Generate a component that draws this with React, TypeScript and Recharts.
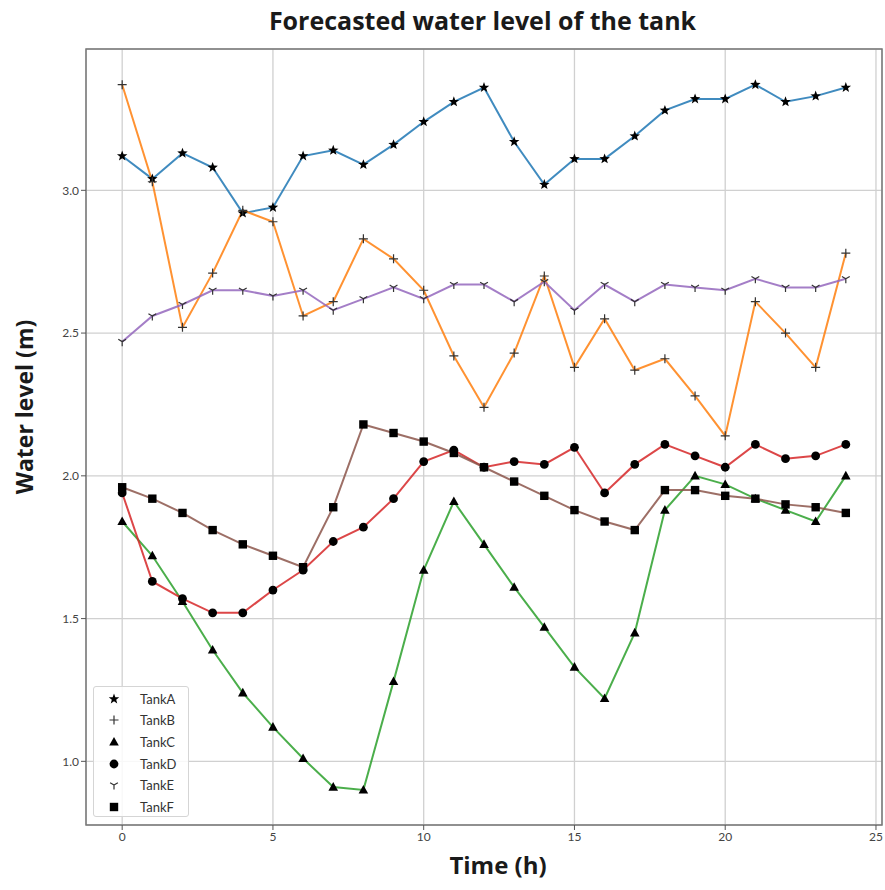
import { LineChart, Line, XAxis, YAxis, CartesianGrid, ReferenceArea } from 'recharts';

const hours = [0, 1, 2, 3, 4, 5, 6, 7, 8, 9, 10, 11, 12, 13, 14, 15, 16, 17, 18, 19, 20, 21, 22, 23, 24];

const tankA = [3.12, 3.04, 3.13, 3.08, 2.92, 2.94, 3.12, 3.14, 3.09, 3.16, 3.24, 3.31, 3.36, 3.17, 3.02, 3.11, 3.11, 3.19, 3.28, 3.32, 3.32, 3.37, 3.31, 3.33, 3.36];
const tankB = [3.37, 3.03, 2.52, 2.71, 2.93, 2.89, 2.56, 2.61, 2.83, 2.76, 2.65, 2.42, 2.24, 2.43, 2.70, 2.38, 2.55, 2.37, 2.41, 2.28, 2.14, 2.61, 2.50, 2.38, 2.78];
const tankC = [1.84, 1.72, 1.56, 1.39, 1.24, 1.12, 1.01, 0.91, 0.90, 1.28, 1.67, 1.91, 1.76, 1.61, 1.47, 1.33, 1.22, 1.45, 1.88, 2.00, 1.97, 1.92, 1.88, 1.84, 2.00];
const tankD = [1.94, 1.63, 1.57, 1.52, 1.52, 1.60, 1.67, 1.77, 1.82, 1.92, 2.05, 2.09, 2.03, 2.05, 2.04, 2.10, 1.94, 2.04, 2.11, 2.07, 2.03, 2.11, 2.06, 2.07, 2.11];
const tankE = [2.47, 2.56, 2.60, 2.65, 2.65, 2.63, 2.65, 2.58, 2.62, 2.66, 2.62, 2.67, 2.67, 2.61, 2.68, 2.58, 2.67, 2.61, 2.67, 2.66, 2.65, 2.69, 2.66, 2.66, 2.69];
const tankF = [1.96, 1.92, 1.87, 1.81, 1.76, 1.72, 1.68, 1.89, 2.18, 2.15, 2.12, 2.08, 2.03, 1.98, 1.93, 1.88, 1.84, 1.81, 1.95, 1.95, 1.93, 1.92, 1.90, 1.89, 1.87];

const xTicks = [0, 5, 10, 15, 20, 25];
const yTicks = [1.0, 1.5, 2.0, 2.5, 3.0];

const X_DOMAIN: [number, number] = [-1.2, 25.2];
const Y_DOMAIN: [number, number] = [0.777, 3.495];

const series = [
  { key: 'TankA', values: tankA, color: '#1f77b4', shape: 'star' },
  { key: 'TankB', values: tankB, color: '#ff7f0e', shape: 'plus' },
  { key: 'TankC', values: tankC, color: '#2ca02c', shape: 'triangle' },
  { key: 'TankD', values: tankD, color: '#d62728', shape: 'circle' },
  { key: 'TankE', values: tankE, color: '#9467bd', shape: 'tri_down' },
  { key: 'TankF', values: tankF, color: '#8c564b', shape: 'square' },
];

const rows = hours.map((t, i) => {
  const row: Record<string, number> = { t };
  series.forEach((s) => {
    row[s.key] = s.values[i];
  });
  return row;
});

const TICK_FONT = 'Lato, "Open Sans", sans-serif';
const LABEL_FONT = '"Open Sans", Lato, sans-serif';

function starPoints(cx: number, cy: number, r: number) {
  const pts: string[] = [];
  for (let k = 0; k < 10; k++) {
    const rr = k % 2 === 0 ? r : r * 0.42;
    const a = -Math.PI / 2 + (k * Math.PI) / 5;
    pts.push(`${cx + rr * Math.cos(a)},${cy + rr * Math.sin(a)}`);
  }
  return pts.join(' ');
}

const Marker = ({ shape, cx, cy }: { shape: string; cx: number; cy: number }) => {
  if (cx == null || cy == null) return null;
  switch (shape) {
    case 'star':
      return <polygon points={starPoints(cx, cy, 5.5)} fill="#000" />;
    case 'plus':
      return (
        <path
          d={`M${cx - 4.5},${cy} H${cx + 4.5} M${cx},${cy - 4.5} V${cy + 4.5}`}
          stroke="#333"
          strokeWidth={1.2}
        />
      );
    case 'triangle':
      return <polygon points={`${cx},${cy - 5} ${cx - 4.8},${cy + 3.6} ${cx + 4.8},${cy + 3.6}`} fill="#000" />;
    case 'circle':
      return <circle cx={cx} cy={cy} r={4.4} fill="#000" />;
    case 'tri_down':
      return (
        <path
          d={`M${cx},${cy} V${cy + 4.5} M${cx},${cy} L${cx - 3.9},${cy - 2.3} M${cx},${cy} L${cx + 3.9},${cy - 2.3}`}
          stroke="#333"
          strokeWidth={1.2}
        />
      );
    case 'square':
      return <rect x={cx - 4.2} y={cy - 4.2} width={8.4} height={8.4} fill="#000" />;
    default:
      return null;
  }
};

const LegendBox = () => (
  <div
    style={{
      position: 'absolute',
      left: 93,
      top: 686,
      width: 96,
      height: 131,
      border: '1px solid #d5d5d5',
      borderRadius: 3,
      background: 'rgba(255,255,255,0.85)',
      boxSizing: 'border-box',
      paddingTop: 1,
    }}
  >
    {series.map((s) => (
      <div key={s.key} style={{ display: 'flex', alignItems: 'center', height: 21.6 }}>
        <svg width={40} height={16}>
          <Marker shape={s.shape} cx={20} cy={8} />
        </svg>
        <span style={{ fontFamily: TICK_FONT, fontSize: 13, color: '#333', marginLeft: 6 }}>{s.key}</span>
      </div>
    ))}
  </div>
);

export default function App() {
  return (
    <div style={{ position: 'absolute', left: 0, top: 0, width: 885, height: 890, background: '#fff' }}>
      <LineChart width={885} height={890} data={rows} margin={{ top: 49, right: 3, bottom: 0, left: 0 }}>
        <CartesianGrid stroke="#d0d0d0" strokeWidth={1.3} />
        <XAxis
          dataKey="t"
          type="number"
          domain={X_DOMAIN}
          ticks={xTicks}
          interval={0}
          allowDataOverflow
          height={65}
          tickSize={5}
          tickLine={{ stroke: '#555' }}
          axisLine={false}
          tick={{ fill: '#444', fontSize: 12, fontFamily: TICK_FONT }}
        />
        <YAxis
          type="number"
          domain={Y_DOMAIN}
          ticks={yTicks}
          interval={0}
          allowDataOverflow
          width={86}
          tickSize={5}
          tickLine={{ stroke: '#555' }}
          axisLine={false}
          tickFormatter={(v: number) => v.toFixed(1)}
          tick={{ fill: '#444', fontSize: 12, fontFamily: TICK_FONT }}
        />
        {series.map((s) => (
          <Line
            key={s.key}
            dataKey={s.key}
            stroke={s.color}
            strokeOpacity={0.85}
            strokeWidth={2}
            isAnimationActive={false}
            dot={(p: any) => <Marker key={`${s.key}-${p.index}`} shape={s.shape} cx={p.cx} cy={p.cy} />}
            activeDot={false}
          />
        ))}
        <ReferenceArea
          x1={X_DOMAIN[0]}
          x2={X_DOMAIN[1]}
          y1={Y_DOMAIN[0]}
          y2={Y_DOMAIN[1]}
          fill="none"
          stroke="#777"
          strokeWidth={1.5}
          ifOverflow="visible"
        />
      </LineChart>
      <LegendBox />
      <div
        style={{
          position: 'absolute',
          left: 0,
          width: 965,
          top: 3,
          textAlign: 'center',
          fontFamily: LABEL_FONT,
          fontWeight: 700,
          fontSize: 25,
          color: '#1a1a1a',
        }}
      >
        Forecasted water level of the tank
      </div>
      <div
        style={{
          position: 'absolute',
          left: 0,
          width: 996,
          top: 848,
          textAlign: 'center',
          fontFamily: LABEL_FONT,
          fontWeight: 700,
          fontSize: 24,
          color: '#1a1a1a',
        }}
      >
        Time (h)
      </div>
      <div
        style={{
          position: 'absolute',
          left: 24,
          top: 407,
          transform: 'translate(-50%, -50%) rotate(-90deg)',
          whiteSpace: 'nowrap',
          fontFamily: LABEL_FONT,
          fontWeight: 700,
          fontSize: 23,
          color: '#1a1a1a',
        }}
      >
        Water level (m)
      </div>
    </div>
  );
}
